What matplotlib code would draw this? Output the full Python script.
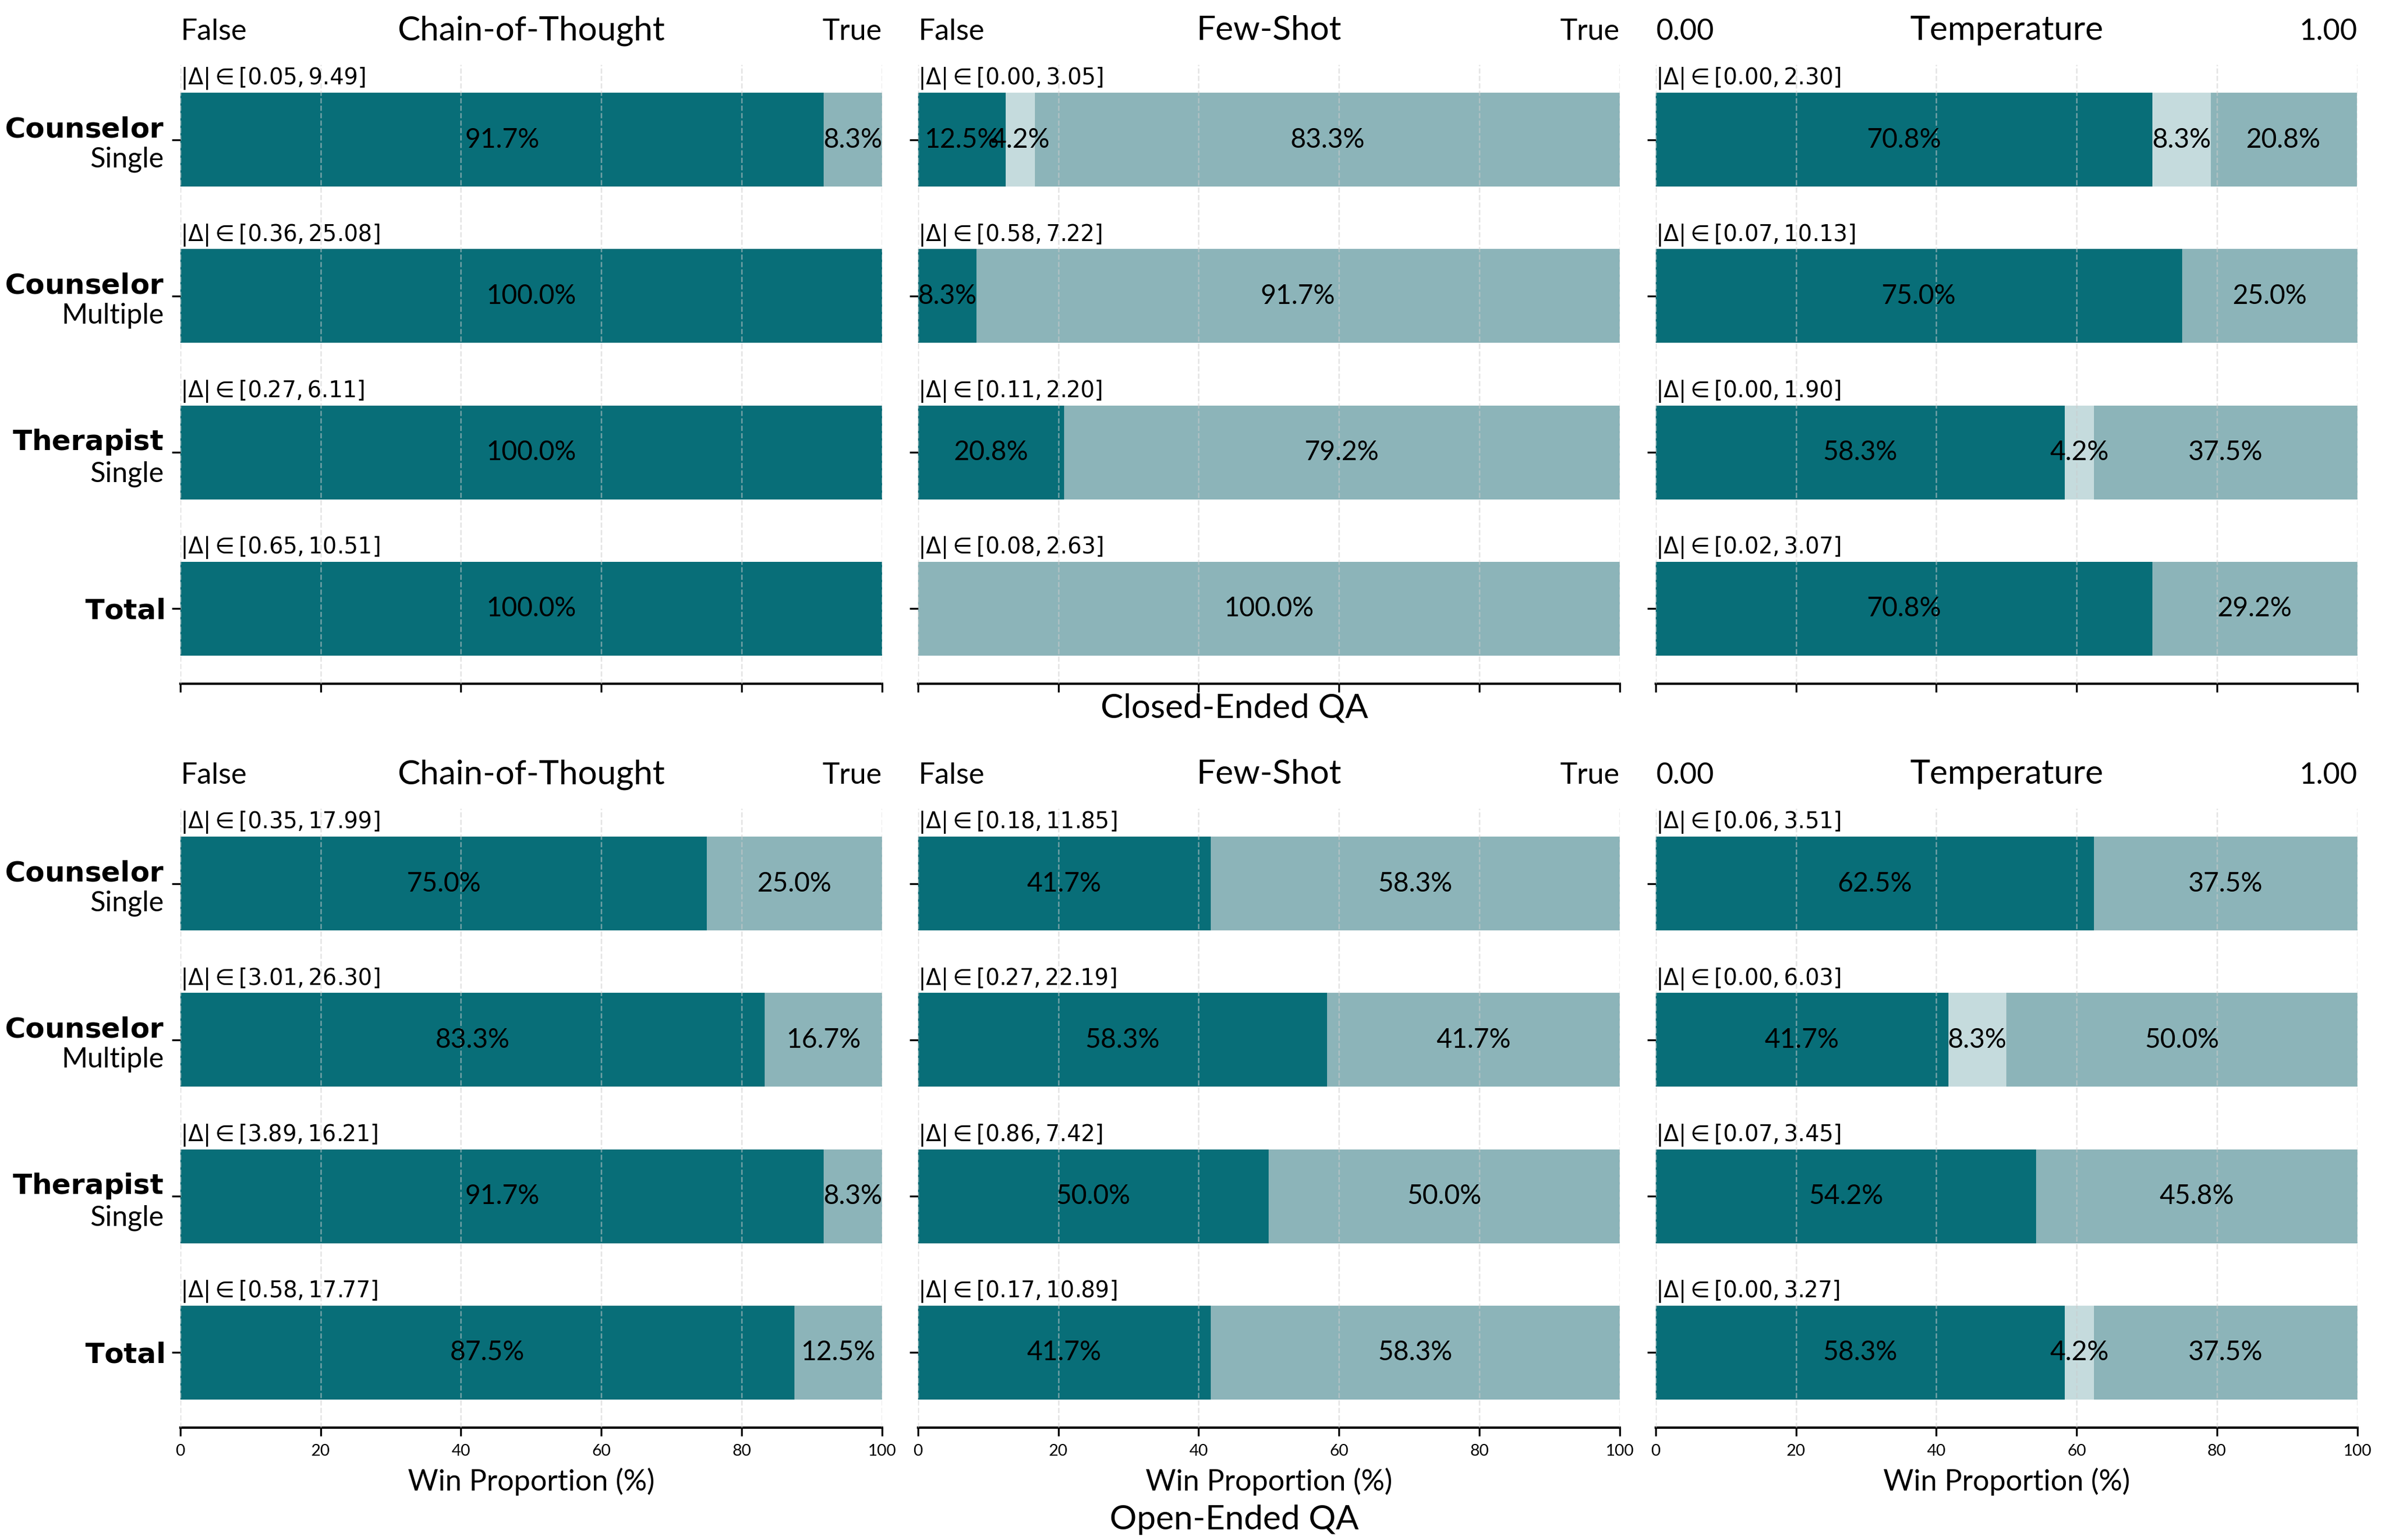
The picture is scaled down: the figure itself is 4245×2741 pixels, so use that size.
import numpy as np
import matplotlib.pyplot as plt

plt.rcParams['font.family'] = ['Lato', 'DejaVu Sans']
plt.rcParams['mathtext.fontset'] = 'dejavusans'

CATEGORIAS = ["$\\bf{Counselor}$\nSingle", "$\\bf{Counselor}$\nMultiple",
              "$\\bf{Therapist}$\nSingle", "$\\bf{Total}$"]
FACTORES = ["Chain-of-Thought", "Few-Shot", "Temperature"]
EXTREMOS = [("False", "True"), ("False", "True"), ("0.00", "1.00")]
SECCIONES = ["Closed-Ended QA", "Open-Ended QA"]

# [gana izquierda, empate, gana derecha] por categoria
CERRADA_COT = [[91.7, 0.0, 8.3], [100.0, 0.0, 0.0], [100.0, 0.0, 0.0], [100.0, 0.0, 0.0]]
CERRADA_FS = [[12.5, 4.2, 83.3], [8.3, 0.0, 91.7], [20.8, 0.0, 79.2], [0.0, 0.0, 100.0]]
CERRADA_TEMP = [[70.8, 8.3, 20.8], [75.0, 0.0, 25.0], [58.3, 4.2, 37.5], [70.8, 0.0, 29.2]]

ABIERTA_COT = [[75.0, 0.0, 25.0], [83.3, 0.0, 16.7], [91.7, 0.0, 8.3], [87.5, 0.0, 12.5]]
ABIERTA_FS = [[41.7, 0.0, 58.3], [58.3, 0.0, 41.7], [50.0, 0.0, 50.0], [41.7, 0.0, 58.3]]
ABIERTA_TEMP = [[62.5, 0.0, 37.5], [41.7, 8.3, 50.0], [54.2, 0.0, 45.8], [58.3, 4.2, 37.5]]

# rango de |Delta| por categoria
DELTA_CERRADA_COT = [(0.05, 9.49), (0.36, 25.08), (0.27, 6.11), (0.65, 10.51)]
DELTA_CERRADA_FS = [(0.00, 3.05), (0.58, 7.22), (0.11, 2.20), (0.08, 2.63)]
DELTA_CERRADA_TEMP = [(0.00, 2.30), (0.07, 10.13), (0.00, 1.90), (0.02, 3.07)]

DELTA_ABIERTA_COT = [(0.35, 17.99), (3.01, 26.30), (3.89, 16.21), (0.58, 17.77)]
DELTA_ABIERTA_FS = [(0.18, 11.85), (0.27, 22.19), (0.86, 7.42), (0.17, 10.89)]
DELTA_ABIERTA_TEMP = [(0.06, 3.51), (0.00, 6.03), (0.07, 3.45), (0.00, 3.27)]

DATOS = [[CERRADA_COT, CERRADA_FS, CERRADA_TEMP],
         [ABIERTA_COT, ABIERTA_FS, ABIERTA_TEMP]]
DELTAS = [[DELTA_CERRADA_COT, DELTA_CERRADA_FS, DELTA_CERRADA_TEMP],
          [DELTA_ABIERTA_COT, DELTA_ABIERTA_FS, DELTA_ABIERTA_TEMP]]

COLORES = ["#086E78", "#C5DBDD", "#8CB4B9"]

fig = plt.figure(figsize=(14.15, 9.1367), dpi=300)

LEFTS = [0.0756, 0.3849, 0.6942]
ANCHO = 0.2942
BOTTOMS = [0.5560, 0.0730]
ALTO = 0.4020

for r in range(2):
    for c in range(3):
        ax = fig.add_axes([LEFTS[c], BOTTOMS[r], ANCHO, ALTO])
        valores = np.array(DATOS[r][c])
        y = np.arange(len(CATEGORIAS))
        izq = np.zeros(len(CATEGORIAS))
        for k in range(3):
            ax.barh(y, valores[:, k], left=izq, height=0.6, color=COLORES[k], zorder=1)
            for i in range(len(y)):
                v = valores[i, k]
                if v > 0:
                    ax.text(izq[i] + v / 2, y[i], f"{v:.1f}%", ha="center", va="center",
                            fontsize=11.5, zorder=4)
            izq = izq + valores[:, k]

        for i, (lo, hi) in enumerate(DELTAS[r][c]):
            ax.text(0, y[i] - 0.31, rf"$|\Delta| \in [{lo:.2f}, {hi:.2f}]$",
                    ha="left", va="bottom", fontsize=9.5, zorder=4)

        ax.invert_yaxis()
        ax.set_xlim(0, 100)
        ax.set_xticks([0, 20, 40, 60, 80, 100])
        ax.set_yticks(y)
        if c == 0:
            ax.set_yticklabels(CATEGORIAS, fontsize=12)
        else:
            ax.set_yticklabels([])
        if r == 0:
            ax.set_xticklabels([])
        else:
            ax.tick_params(axis="x", labelsize=7)
            ax.set_xlabel("Win Proportion (%)", fontsize=12.5, labelpad=4)

        ax.grid(axis="x", linestyle="--", color="#cccccc", alpha=0.55, linewidth=0.6)
        ax.set_axisbelow(False)
        ax.spines[["top", "right", "left"]].set_visible(False)
        ax.spines["bottom"].set_linewidth(1.0)

        ax.set_title(FACTORES[c], fontsize=14.5, pad=8.9)
        ax.set_title(EXTREMOS[c][0], loc="left", fontsize=12.5, pad=10.5)
        ax.set_title(EXTREMOS[c][1], loc="right", fontsize=12.5, pad=10.5)

fig.text(0.5175, 0.5341, SECCIONES[0], ha="center", va="baseline", fontsize=14.5)
fig.text(0.5175, 0.0069, SECCIONES[1], ha="center", va="baseline", fontsize=14.5)

plt.savefig("out.png", dpi=300)
